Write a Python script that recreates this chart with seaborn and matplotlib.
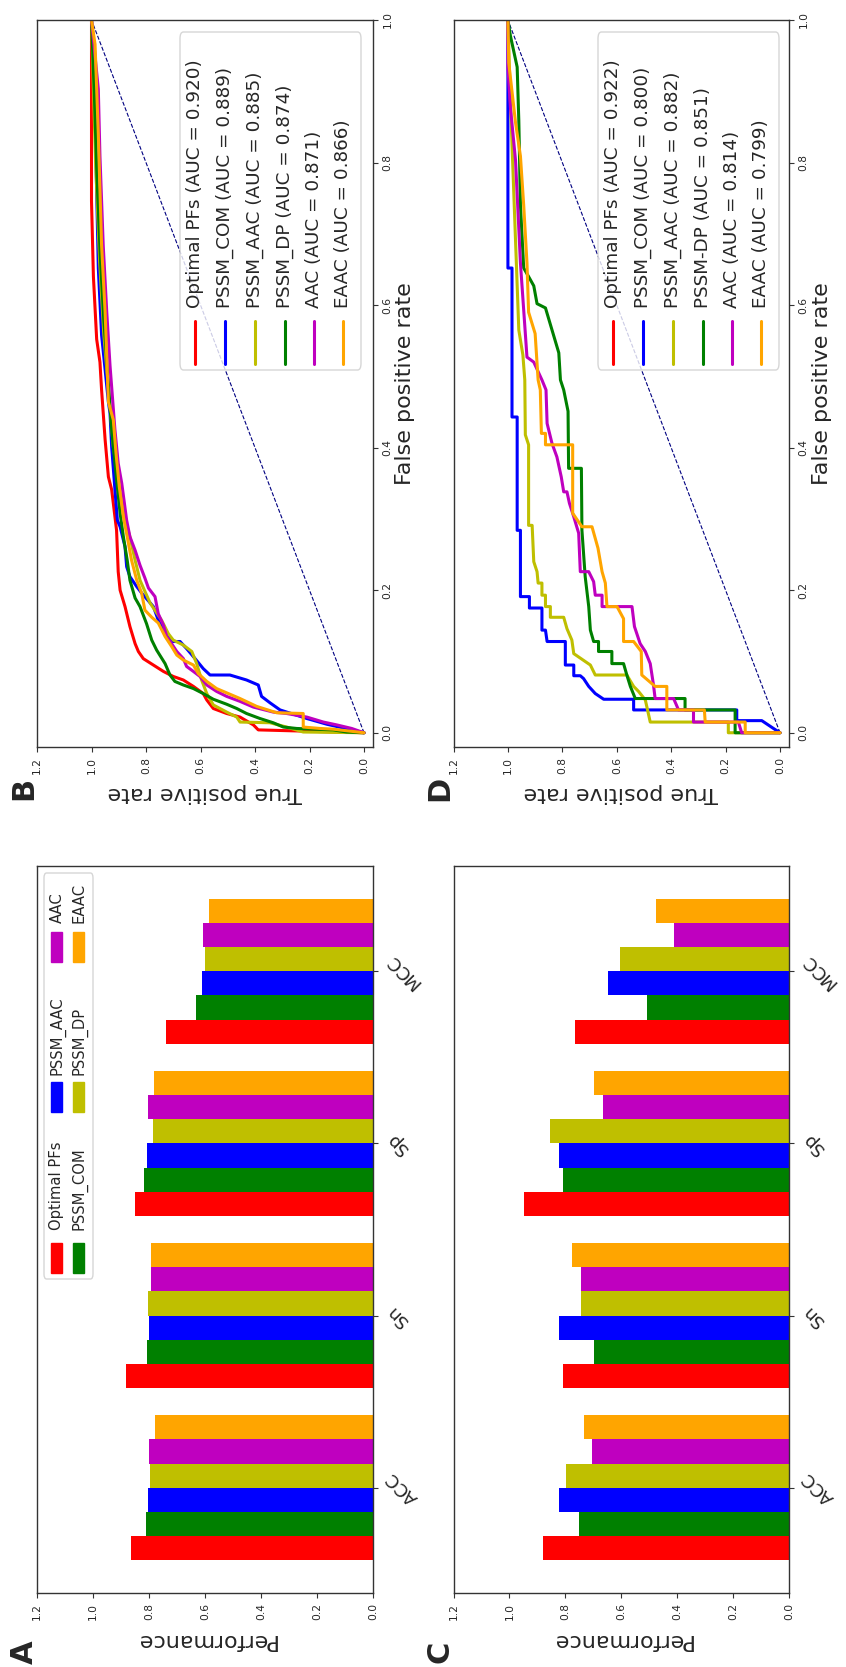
import numpy as np
import pandas as pd
import matplotlib
matplotlib.use('Agg')
import matplotlib.pyplot as plt
import seaborn as sns
from matplotlib.patches import FancyBboxPatch, Rectangle
from matplotlib.lines import Line2D

# ---- bar panels (A, C) ----
metrics = ['ACC', 'Sn', 'Sp', 'MCC']
bar_methods = ['Optimal PFs', 'PSSM_COM', 'PSSM_AAC', 'PSSM_DP', 'AAC', 'EAAC']
bar_colors = ['#ff0000', '#008000', '#0000ff', '#bfbf00', '#bf00bf', '#ffa500']

a_acc = [0.866, 0.812, 0.802, 0.795, 0.799, 0.780]
a_sn = [0.881, 0.807, 0.799, 0.802, 0.793, 0.794]
a_sp = [0.851, 0.818, 0.807, 0.787, 0.802, 0.782]
a_mcc = [0.741, 0.632, 0.612, 0.600, 0.607, 0.587]

c_acc = [0.879, 0.752, 0.822, 0.799, 0.706, 0.735]
c_sn = [0.807, 0.696, 0.822, 0.744, 0.744, 0.775]
c_sp = [0.949, 0.807, 0.822, 0.855, 0.664, 0.696]
c_mcc = [0.767, 0.509, 0.649, 0.605, 0.412, 0.476]

# ---- ROC panels (B, D) ----
roc_colors = ['#ff0000', '#0000ff', '#bfbf00', '#008000', '#bf00bf', '#ffa500']
b_labels = ['Optimal PFs (AUC = 0.920)', 'PSSM_COM (AUC = 0.889)', 'PSSM_AAC (AUC = 0.885)',
            'PSSM_DP (AUC = 0.874)', 'AAC (AUC = 0.871)', 'EAAC (AUC = 0.866)']
d_labels = ['Optimal PFs (AUC = 0.922)', 'PSSM_COM (AUC = 0.800)', 'PSSM_AAC (AUC = 0.882)',
            'PSSM-DP (AUC = 0.851)', 'AAC (AUC = 0.814)', 'EAAC (AUC = 0.799)']

b_opt_tpr = [0, .388, .406, .455, .504, .553, .577, .590, .626, .663, .700, .736, .773, .810, .828,
             .840, .859, .877, .895, .902, .908, .926, .938, .950, .963, .969, .981, .993, 1.0, 1.0]
b_opt_fpr = [0, .004, .011, .022, .027, .034, .046, .055, .065, .074, .079, .086, .095, .104, .114,
             .125, .149, .177, .200, .226, .284, .341, .359, .411, .481, .52, .552, .640, .746, 1.0]
b_com_tpr = [0, .137, .210, .308, .345, .376, .388, .431, .492, .565, .590, .620, .651, .675, .706,
             .730, .755, .773, .816, .834, .859, .871, .877, .895, .905, .914, .926, .932, .938, .963,
             .975, .981, .987, .993, 1.0]
b_com_fpr = [0, .012, .020, .032, .042, .051, .067, .074, .081, .081, .090, .104, .118, .128, .128,
             .139, .158, .177, .196, .205, .219, .233, .261, .289, .298, .341, .401, .448, .464, .558,
             .652, .759, .872, .966, 1.0]
b_aac_tpr = [0, .223, .284, .345, .455, .467, .504, .553, .577, .596, .614, .632, .663, .700, .718,
             .743, .785, .822, .840, .859, .883, .902, .920, .935, .955, .970, .985, .995, 1.0]
b_aac_fpr = [0, .001, .008, .014, .015, .022, .029, .039, .055, .074, .097, .114, .123, .130, .139,
             .158, .182, .214, .242, .275, .308, .355, .401, .47, .56, .66, .80, .93, 1.0]
b_dp_tpr = [0, .064, .113, .247, .296, .333, .382, .431, .467, .504, .553, .590, .626, .663, .694,
            .712, .730, .761, .779, .798, .822, .840, .859, .869, .883, .895, .908, .926, .94, .955,
            .968, .98, .99, 1.0]
b_dp_fpr = [0, .001, .004, .006, .008, .014, .020, .027, .034, .040, .047, .055, .062, .067, .072,
            .081, .097, .116, .130, .153, .177, .189, .214, .242, .275, .308, .355, .425, .5, .58,
            .67, .78, .9, 1.0]
b_aa_tpr = [0, .045, .100, .149, .210, .284, .333, .406, .455, .504, .541, .577, .602, .626, .651,
            .663, .687, .706, .724, .736, .755, .767, .791, .804, .822, .840, .859, .871, .881, .889,
            .902, .914, .932, .944, .957, .969, .975, 1.0]
b_aa_fpr = [0, .006, .011, .015, .022, .027, .029, .036, .044, .051, .058, .067, .079, .086, .093,
            .104, .114, .125, .135, .151, .167, .191, .203, .217, .235, .256, .275, .298, .327, .350,
            .378, .425, .515, .590, .684, .809, .903, 1.0]
b_eaac_tpr = [0, .113, .161, .223, .223, .320, .394, .455, .504, .541, .577, .608, .626, .663, .687,
              .706, .730, .755, .779, .804, .816, .834, .853, .869, .883, .898, .910, .920, .938, .950,
              .963, .975, .987, 1.0]
b_eaac_fpr = [0, .005, .006, .008, .027, .028, .037, .048, .056, .062, .072, .083, .095, .102, .109,
              .121, .135, .154, .162, .172, .196, .214, .242, .275, .303, .345, .392, .439, .464, .59,
              .684, .84, .966, 1.0]

# panel D: the Optimal PFs curve is not visible in the figure, only in its legend
d_com_tpr = [0, .024, .067, .159, .159, .538, .538, .648, .679, .703, .722, .734, .758, .758, .789,
             .789, .856, .862, .875, .875, .921, .921, .954, .954, .966, .966, .985, .985, 1.0, 1.0]
d_com_fpr = [0, .006, .017, .017, .032, .032, .047, .047, .055, .065, .076, .080, .080, .095, .095,
             .128, .128, .144, .144, .175, .175, .191, .191, .284, .284, .443, .443, .652, .652, 1.0]
d_aac_tpr = [0, .190, .190, .477, .495, .520, .538, .563, .679, .697, .758, .765, .783, .795, .844,
             .844, .862, .862, .875, .875, .889, .893, .905, .911, .924, .924, .936, .938, .945, .96,
             .99, 1.0]
d_aac_fpr = [0, 0, .015, .015, .046, .058, .065, .081, .081, .095, .111, .130, .146, .162, .162,
             .177, .177, .193, .193, .210, .210, .226, .240, .291, .291, .404, .418, .495, .53, .565,
             .878, 1.0]
d_dp_tpr = [0, .165, .165, .349, .349, .532, .550, .563, .575, .618, .618, .667, .667, .685, .697,
            .703, .716, .728, .730, .777, .779, .795, .807, .813, .862, .893, .905, .924, .942, .954,
            .960, .966, .991, 1.0]
d_dp_fpr = [0, 0, .032, .032, .048, .048, .065, .081, .097, .097, .114, .114, .128, .128, .144,
            .177, .219, .284, .371, .371, .451, .481, .495, .533, .596, .602, .627, .640, .652, .740,
            .859, .934, .978, 1.0]
d_aa_tpr = [0, .141, .153, .318, .318, .373, .391, .459, .465, .477, .495, .514, .535, .544, .654,
            .654, .679, .685, .703, .734, .740, .758, .774, .783, .795, .804, .820, .838, .856, .860,
            .875, .905, .930, .954, .972, .991, 1.0, 1.0]
d_aa_fpr = [0, 0, .015, .015, .032, .032, .048, .048, .067, .097, .114, .125, .149, .177, .177,
            .193, .193, .212, .226, .226, .280, .303, .322, .338, .338, .359, .387, .406, .434, .481,
            .495, .52, .527, .659, .803, .878, .934, 1.0]
d_eaac_tpr = [0, .128, .128, .275, .278, .416, .416, .459, .508, .510, .538, .575, .575, .599, .636,
              .642, .654, .669, .691, .728, .762, .762, .862, .862, .877, .881, .889, .9, .924, .93,
              .942, .954, .972, .997, 1.0]
d_eaac_fpr = [0, 0, .015, .015, .032, .032, .065, .065, .081, .114, .128, .128, .160, .177, .177,
              .210, .226, .259, .289, .289, .308, .404, .404, .420, .420, .481, .495, .56, .59, .659,
              .74, .809, .856, .94, 1.0]

sns.set_style('ticks')
plt.rcParams['font.family'] = ['DejaVu Sans']

W, H = 846, 1667
fig = plt.figure(figsize=(W / 100, H / 100), dpi=100)


def px_axes(x0, y0, x1, y1):
    return fig.add_axes([x0 / W, 1 - y1 / H, (x1 - x0) / W, (y1 - y0) / H])


def fx(x):
    return x / W


def fy(y):
    return 1 - y / H


def ftext(x, y, s, **kw):
    fig.text(fx(x), fy(y), s, transform=fig.transFigure, **kw)


def style_axes(ax):
    for sp in ax.spines.values():
        sp.set_color('0.2')
        sp.set_linewidth(1.0)
    ax.tick_params(length=3.5, width=0.8, color='0.2', labelsize=7.7)


def bar_frame(rows):
    recs = []
    for m, vals in zip(metrics, rows):
        for meth, v in zip(bar_methods, vals):
            recs.append((m, meth, v))
    return pd.DataFrame(recs, columns=['metric', 'method', 'value'])


def draw_bars(ax, df):
    sns.barplot(data=df, x='value', y='metric', hue='method', orient='h',
                palette=bar_colors, width=0.84, saturation=1, errorbar=None,
                legend=False, linewidth=0, ax=ax)
    ax.set_xlim(1.2, 0)
    ax.set_ylim(-0.612, 3.612)
    ax.yaxis.tick_right()
    ax.set_yticks(range(len(metrics)))
    ax.set_yticklabels(metrics, rotation=135, ha='left', va='center')
    ticks = np.arange(0, 1.21, 0.2)
    ax.set_xticks(ticks)
    ax.set_xticklabels([f'{t:.1f}' for t in ticks], rotation=90)
    ax.set_xlabel('')
    ax.set_ylabel('')
    style_axes(ax)
    ax.tick_params(axis='y', labelsize=13)


def draw_roc(ax, curves, colors):
    sns.lineplot(x=[0, 1], y=[0, 1], color='navy', linestyle='--', lw=0.8, ax=ax)
    for (tpr, fpr), c in zip(curves, colors):
        sns.lineplot(x=tpr, y=fpr, sort=False, estimator=None, color=c, lw=2.2, ax=ax)
    ax.set_xlim(1.2, -0.033)
    ax.set_ylim(-0.02, 1.0)
    ax.yaxis.tick_right()
    xt = np.arange(0, 1.21, 0.2)
    ax.set_xticks(xt)
    ax.set_xticklabels([f'{t:.1f}' for t in xt], rotation=90)
    yt = np.arange(0, 1.01, 0.2)
    ax.set_yticks(yt)
    ax.set_yticklabels([f'{t:.1f}' for t in yt], rotation=90, va='center')
    ax.set_xlabel('')
    ax.set_ylabel('')
    style_axes(ax)


def roc_legend(x0, labels):
    fig.add_artist(FancyBboxPatch((fx(x0), fy(370)), 181 / W, 338 / H,
                                  boxstyle='round,pad=0,rounding_size=0.004',
                                  transform=fig.transFigure, fc='white', ec='0.8',
                                  lw=1, alpha=0.8))
    offsets = [15, 45, 75, 105, 134, 163]
    for off, lab, c in zip(offsets, labels, roc_colors):
        x = x0 + off
        fig.add_artist(Line2D([fx(x), fx(x)], [fy(364), fy(321)], color=c, lw=2.2,
                              transform=fig.transFigure))
        ftext(x, 308, lab, rotation=90, rotation_mode='anchor', ha='left',
              va='center', fontsize=13.2)


def bar_legend():
    fig.add_artist(FancyBboxPatch((fx(44), fy(1279)), 49 / W, 406 / H,
                                  boxstyle='round,pad=0,rounding_size=0.003',
                                  transform=fig.transFigure, fc='white', ec='0.8',
                                  lw=1, alpha=0.8))
    rows = [(1273, 1230), (1112, 1075), (962, 923)]
    xs = [51, 73]
    k = 0
    for (pb, ts) in rows:
        for x in xs:
            fig.add_artist(Rectangle((fx(x), fy(pb)), 11 / W, 30 / H,
                                     transform=fig.transFigure, color=bar_colors[k]))
            ftext(x + 6, ts, bar_methods[k], rotation=90, rotation_mode='anchor',
                  ha='left', va='center', fontsize=10.6)
            k += 1


ax_b = px_axes(37, 20, 373, 747)
ax_d = px_axes(453.5, 20, 789, 747)
ax_a = px_axes(37, 866, 373, 1593)
ax_c = px_axes(453.5, 866, 789, 1593)

draw_bars(ax_a, bar_frame([a_acc, a_sn, a_sp, a_mcc]))
draw_bars(ax_c, bar_frame([c_acc, c_sn, c_sp, c_mcc]))

draw_roc(ax_b, [(b_opt_tpr, b_opt_fpr), (b_com_tpr, b_com_fpr), (b_aac_tpr, b_aac_fpr),
                (b_dp_tpr, b_dp_fpr), (b_aa_tpr, b_aa_fpr), (b_eaac_tpr, b_eaac_fpr)],
         roc_colors)
draw_roc(ax_d, [(d_com_tpr, d_com_fpr), (d_aac_tpr, d_aac_fpr), (d_dp_tpr, d_dp_fpr),
                (d_aa_tpr, d_aa_fpr), (d_eaac_tpr, d_eaac_fpr)],
         roc_colors[1:])

roc_legend(180, b_labels)
roc_legend(598, d_labels)
bar_legend()

# axis titles
for xc in (205, 621):
    ftext(xc, 1640, 'Performance', rotation=180, ha='center', va='center', fontsize=16)
    ftext(xc, 793, 'True positive rate', rotation=180, ha='center', va='center', fontsize=16)
for xc in (405, 822):
    ftext(xc, 384, 'False positive rate', rotation=90, ha='center', va='center', fontsize=16)

# panel letters
for s, x, y in [('A', 24, 1652), ('B', 24, 788), ('C', 440, 1652), ('D', 440, 788)]:
    ftext(x, y, s, rotation=90, ha='center', va='center', fontsize=22, fontweight='bold')

fig.savefig('out.png', dpi=100)
